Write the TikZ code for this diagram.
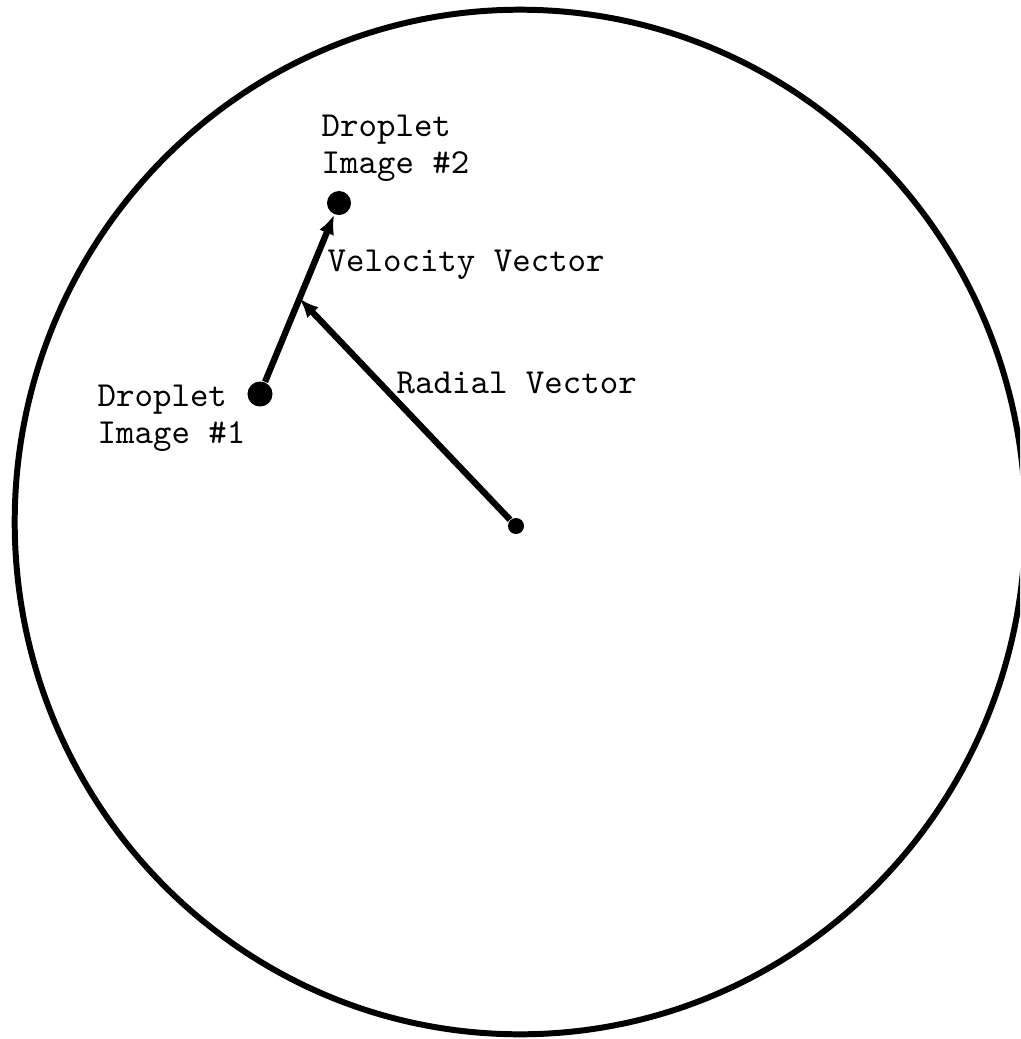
\documentclass[tikz,border=0pt]{standalone}
\usepackage{fontspec}
\usetikzlibrary{arrows.meta,calc}
\tikzset{
  gota/.style={circle, fill=black, inner sep=0pt, minimum size=#1},
  etiqueta/.style={anchor=north west, inner sep=0pt, align=left,
    font=\ttfamily\fontsize{10}{10.5}\selectfont},
  vector/.style={line width=1.8pt, -{Latex[length=5.5pt,width=4.5pt]}}
}
\begin{document}
\begin{tikzpicture}[x=0.01cm, y=-0.01cm]
    \useasboundingbox (0,0) rectangle (1020,1039);
    \clip (0,0) rectangle (1020,1039);
    % Borde
    \draw[line width=1.7pt] (520,522) ellipse [x radius=5.05cm, y radius=5.12cm];

    % Puntos
    \node[gota=0.16cm] (centro) at (516,526) {};
    \node[gota=0.25cm] (img1) at (260,394) {};
    \node[gota=0.24cm] (img2) at (339,203) {};
    \coordinate (punta) at ($(img1)!0.5!(img2)$);

    % Vectores
    \draw[vector] (img1) -- (img2);
    \draw[vector] (centro) -- (punta);

    % Textos
    \node[etiqueta] (txt2) at (321,114) {Droplet\\Image \#2};
    \node[etiqueta] (txt1) at (97,384) {Droplet\\Image \#1};
    \node[etiqueta] (velo) at (327,249) {Velocity Vector};
    \node[etiqueta] (radi) at (396,371) {Radial Vector};
\end{tikzpicture}
\end{document}
